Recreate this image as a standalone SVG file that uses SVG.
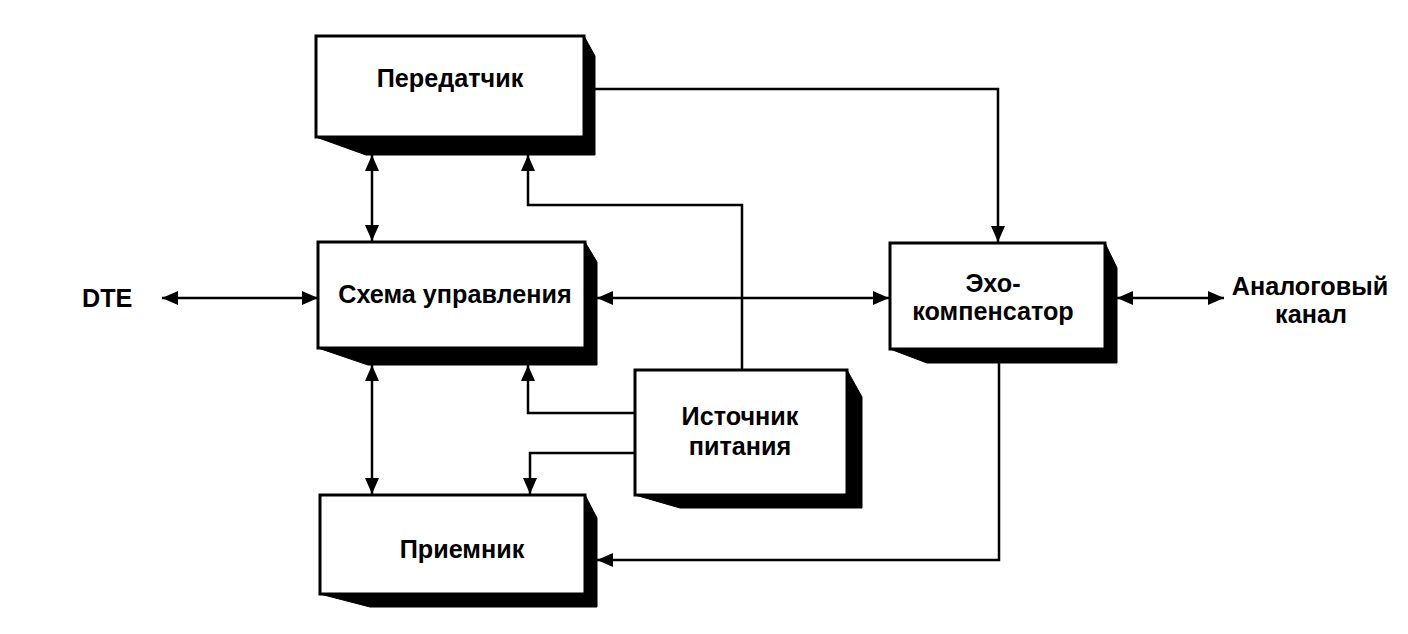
<svg xmlns="http://www.w3.org/2000/svg" width="1408" height="634" viewBox="0 0 1408 634">
<style>
.shadow{fill:#000;stroke:#000;stroke-width:1;stroke-linejoin:round}
.face{fill:#fff;stroke:#000;stroke-width:3}
.lbl{font-family:"Liberation Sans",Arial,sans-serif;font-weight:bold;font-size:25.2px;fill:#000}
.c{text-anchor:middle}
.wire{fill:none;stroke:#000;stroke-width:2.5}
</style>
<defs>
<marker id="ah" viewBox="0 0 16 14" refX="16" refY="7" markerWidth="16" markerHeight="14" markerUnits="userSpaceOnUse" orient="auto-start-reverse">
<path d="M0,0 L16,7 L0,14 Z" fill="#000"/>
</marker>
</defs>
<rect width="1408" height="634" fill="#fff"/>

<g id="connectors">
<line class="wire" x1="162" y1="298" x2="318" y2="298" marker-start="url(#ah)" marker-end="url(#ah)"/>
<line class="wire" x1="597" y1="298" x2="889" y2="298" marker-start="url(#ah)" marker-end="url(#ah)"/>
<line class="wire" x1="1117" y1="298" x2="1224" y2="298" marker-start="url(#ah)" marker-end="url(#ah)"/>
<path class="wire" d="M594,89 H998 V242" marker-end="url(#ah)"/>
<path class="wire" d="M999,363 V560 H597" marker-end="url(#ah)"/>
<line class="wire" x1="372" y1="155" x2="372" y2="241" marker-start="url(#ah)" marker-end="url(#ah)"/>
<line class="wire" x1="372" y1="365" x2="372" y2="494" marker-start="url(#ah)" marker-end="url(#ah)"/>
<path class="wire" d="M742,370 V205 H528 V155" marker-end="url(#ah)"/>
<path class="wire" d="M635,413 H528 V365" marker-end="url(#ah)"/>
<path class="wire" d="M635,453 H530 V494" marker-end="url(#ah)"/>
</g>

<g id="transmitter">
<polygon class="shadow" points="584,36 595,56 595,155 366,155 316,137"/>
<rect class="face" x="316" y="36" width="268" height="101"/>
<text class="lbl c" x="450" y="87">Передатчик</text>
</g>

<g id="control">
<polygon class="shadow" points="585,242 597,262 597,365 368,365 318,348"/>
<rect class="face" x="318" y="242" width="267" height="106"/>
<text class="lbl c" x="455" y="303">Схема управления</text>
</g>

<g id="receiver">
<polygon class="shadow" points="585,495 597,518 597,607 370,607 320,594"/>
<rect class="face" x="320" y="495" width="265" height="99"/>
<text class="lbl c" x="462" y="558">Приемник</text>
</g>

<g id="echo">
<polygon class="shadow" points="1105,243 1117,268 1117,363 927,363 890,349"/>
<rect class="face" x="890" y="243" width="215" height="106"/>
<text class="lbl c" x="993" y="292">Эхо-</text>
<text class="lbl c" x="993" y="320">компенсатор</text>
</g>

<g id="power">
<polygon class="shadow" points="847,370 862,397 862,508 680,508 635,495"/>
<rect class="face" x="635" y="370" width="212" height="125"/>
<text class="lbl c" x="740" y="425">Источник</text>
<text class="lbl c" x="740" y="455">питания</text>
</g>

<g id="dte">
<text class="lbl" x="82" y="307">DTE</text>
</g>

<g id="analog">
<text class="lbl c" x="1310" y="295">Аналоговый</text>
<text class="lbl c" x="1311" y="323">канал</text>
</g>
</svg>
